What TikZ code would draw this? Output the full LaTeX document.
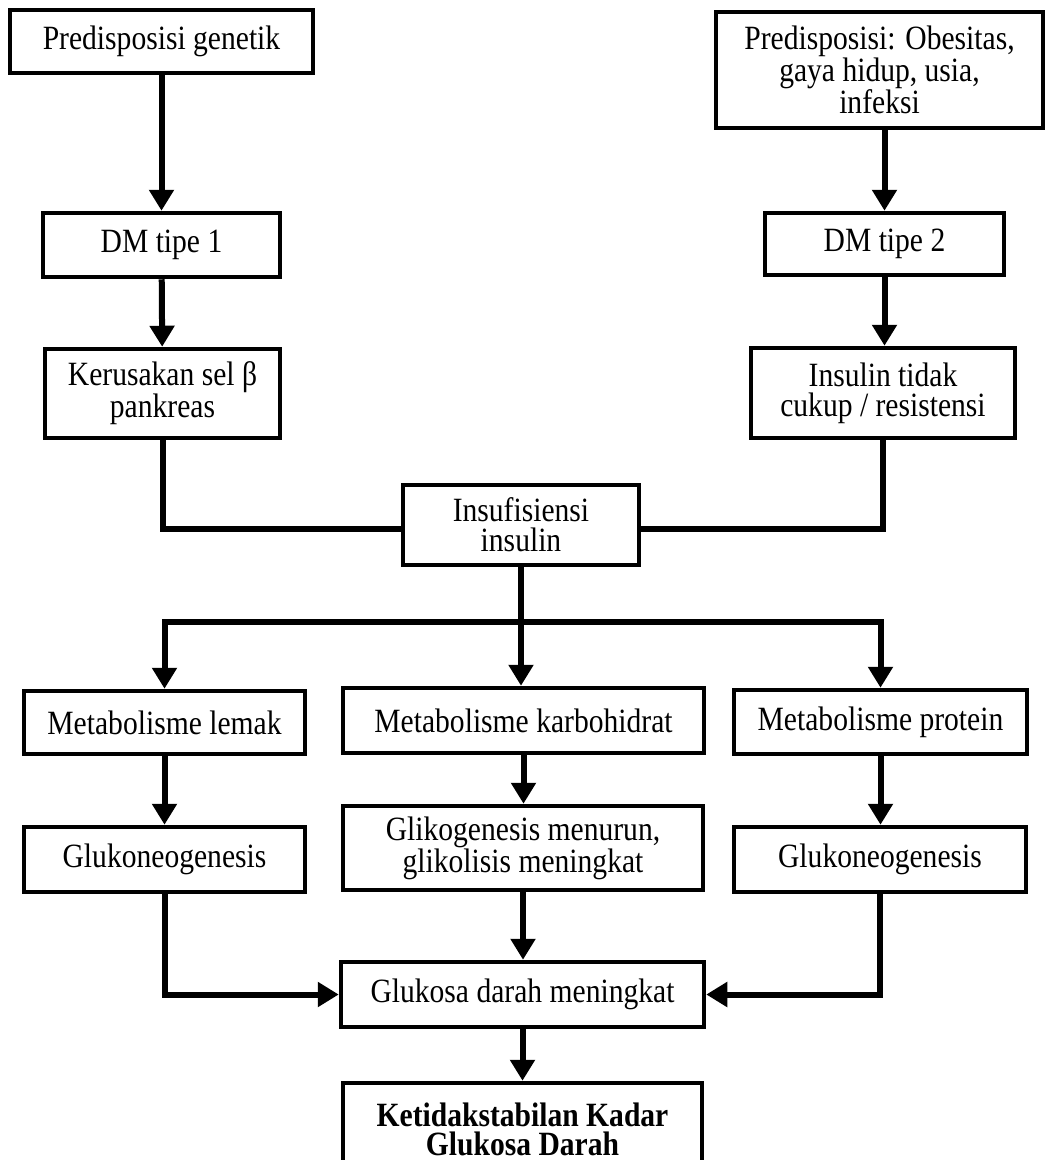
\documentclass[tikz,border=0pt]{standalone}
\usepackage{fontspec}
\setmainfont{Liberation Serif}[FakeStretch=0.87]
\usetikzlibrary{arrows.meta}
\tikzset{
  box/.style={draw=black, line width=4.5pt, rectangle, inner sep=0pt, align=center,
    font=\fontsize{34}{30}\selectfont},
  conn/.style={line width=6pt, line join=miter},
  arr/.style={conn, -{Triangle[width=24pt,length=21pt]}}
}
\begin{document}
\begin{tikzpicture}[x=1pt,y=-1pt]
\path[use as bounding box, clip] (0,0) rectangle (1047,1160);
\fill[white] (0,0) rectangle (1047,1160);

\node[box, minimum width=303pt, minimum height=63pt] (g1) at (161.5,41.5) {Predisposisi genetik};
\node[box, minimum width=327pt, minimum height=116pt] (g2) at (879.5,70) {Predisposisi: Obesitas,\\gaya hidup, usia,\\infeksi};
\node[box, minimum width=237pt, minimum height=64pt] (d1) at (161.5,245) {DM tipe 1};
\node[box, minimum width=239pt, minimum height=62pt] (d2) at (884.5,244) {DM tipe 2};
\node[box, minimum width=235pt, minimum height=89pt] (k1) at (162.5,393.5) {Kerusakan sel β\\pankreas};
\node[box, minimum width=264pt, minimum height=90pt] (k2) at (883,393) {Insulin tidak\\cukup / resistensi};
\node[box, minimum width=236pt, minimum height=80pt] (ins) at (521,525) {Insufisiensi\\insulin};
\node[box, minimum width=281pt, minimum height=63pt] (ml) at (164.5,722.5) {Metabolisme lemak};
\node[box, minimum width=361pt, minimum height=65pt] (mk) at (523.5,720.5) {Metabolisme karbohidrat};
\node[box, minimum width=293pt, minimum height=64pt] (mp) at (880.5,722) {Metabolisme protein};
\node[box, minimum width=281pt, minimum height=65pt] (gl) at (164.5,859.5) {Glukoneogenesis};
\node[box, minimum width=360pt, minimum height=84pt] (gk) at (523,848) {Glikogenesis menurun,\\glikolisis meningkat};
\node[box, minimum width=292pt, minimum height=65pt] (gp) at (880,859.5) {Glukoneogenesis};
\node[box, minimum width=363pt, minimum height=65pt] (gd) at (522.5,994.5) {Glukosa darah meningkat};
\node[box, minimum width=359pt, minimum height=92pt, font=\fontsize{34}{29}\selectfont\bfseries] (kd) at (522.5,1129) {Ketidakstabilan Kadar\\Glukosa Darah};

\draw[arr] (g1.south -| d1.north) -- (d1.north);
\draw[arr] (g2.south -| d2.north) -- (d2.north);
\draw[arr] (d1) -- (k1);
\draw[arr] (d2.south) -- (k2.north -| d2.south);
\draw[conn] (k1.south) |- ([yshift=-4pt]ins.west);
\draw[conn] (k2.south) |- ([yshift=-4pt]ins.east);
\draw[arr] (ins.south) -- (mk.north -| ins.south);
\coordinate (br) at (521,622);
\draw[arr] (br) -| (ml.north);
\draw[arr] (br) -| (mp.north);
\draw[arr] (ml) -- (gl);
\draw[arr] (mk) -- (gk.north -| mk.south);
\draw[arr] (mp) -- (gp.north -| mp.south);
\draw[arr] (gk.south) -- (gd.north -| gk.south);
\draw[arr] (gl.south) |- (gd.west);
\draw[arr] (gp.south) |- (gd.east);
\draw[arr] (gd) -- (kd);
\end{tikzpicture}
\end{document}
